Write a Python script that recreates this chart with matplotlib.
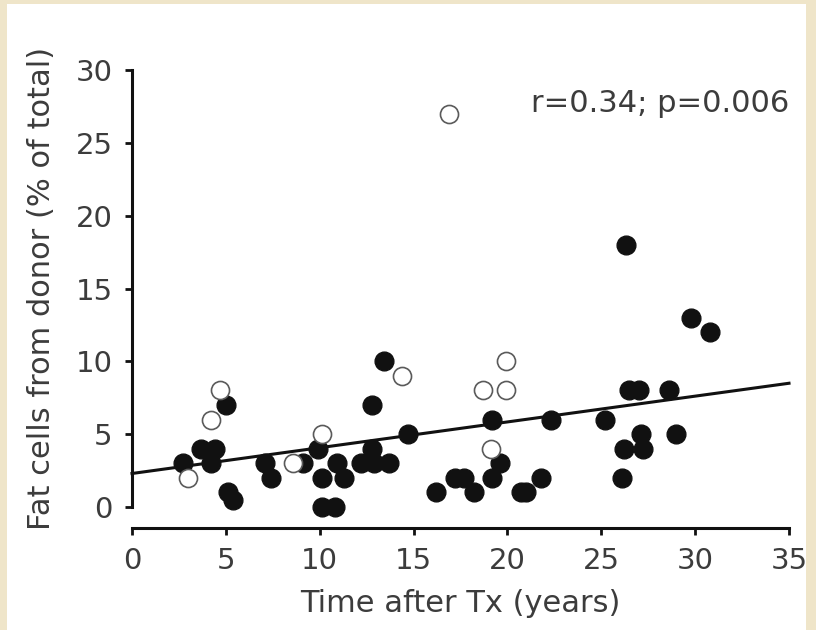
import matplotlib
matplotlib.use("Agg")
import matplotlib.pyplot as plt
from matplotlib.patches import Rectangle

# Filled circles (x: years after Tx, y: % donor fat cells)
filled_x = [2.7, 3.7, 4.4, 4.2, 5.0, 5.1, 5.4, 7.1, 7.4, 9.1, 9.9, 10.1, 10.1, 10.8,
            10.9, 11.3, 12.2, 12.8, 12.8, 12.9, 13.4, 13.7, 14.7, 16.2, 17.2, 17.7,
            18.2, 19.2, 19.2, 19.6, 20.7, 21.0, 21.8, 22.3, 25.2, 26.1, 26.2, 26.3,
            26.5, 27.0, 27.1, 27.2, 28.6, 29.0, 29.8, 30.8]
filled_y = [3, 4, 4, 3, 7, 1, 0.5, 3, 2, 3, 4, 2, 0, 0,
            3, 2, 3, 7, 4, 3, 10, 3, 5, 1, 2, 2,
            1, 2, 6, 3, 1, 1, 2, 6, 6, 2, 4, 18,
            8, 8, 5, 4, 8, 5, 13, 12]

# Open circles
open_x = [3.0, 4.2, 4.7, 8.6, 10.1, 14.4, 16.9, 18.7, 19.1, 19.9, 19.9]
open_y = [2, 6, 8, 3, 5, 9, 27, 8, 4, 8, 10]

# Regression line
fit_intercept = 2.3
fit_slope = 0.177
fit_range = [0, 35]

x_ticks = [0, 5, 10, 15, 20, 25, 30, 35]
y_ticks = [0, 5, 10, 15, 20, 25, 30]

plt.rcParams["font.family"] = ["DejaVu Sans"]

W, H = 816, 630
fig = plt.figure(figsize=(W / 100, H / 100), dpi=100)
fig.patch.set_facecolor("#EFE5C9")
bg = Rectangle((7 / W, 0), (806 - 7) / W, (H - 4) / H,
               transform=fig.transFigure, facecolor="white",
               edgecolor="none", zorder=-10)
fig.add_artist(bg)

text_color = "#3c3c3c"

ax = fig.add_axes([132 / W, (H - 507) / H, (789 - 132) / W, (507 - 70) / H])
ax.set_zorder(5)
ax.set_facecolor("none")

ax.plot(filled_x, filled_y, linestyle="none", marker="o", markersize=13.5,
        markerfacecolor="#111111", markeredgecolor="#111111", clip_on=False, zorder=3)
ax.plot(open_x, open_y, linestyle="none", marker="o", markersize=13,
        markerfacecolor="white", markeredgecolor="#5a5a5a", markeredgewidth=1.2,
        clip_on=False, zorder=3)

fx = fit_range
fy = [fit_intercept + fit_slope * v for v in fx]
ax.plot(fx, fy, color="#111111", linewidth=2.2, zorder=4, clip_on=False)

ax.set_xlim(0, 35)
ax.set_ylim(0, 30)
ax.set_xticks(x_ticks)
ax.set_yticks(y_ticks)

for s in ["top", "right"]:
    ax.spines[s].set_visible(False)
for s in ["left", "bottom"]:
    ax.spines[s].set_linewidth(2.2)
    ax.spines[s].set_color("#111111")
ax.spines["bottom"].set_position(("outward", 15))

ax.tick_params(axis="both", direction="out", length=5, width=2.0, color="#111111",
               labelsize=21, labelcolor=text_color)
ax.tick_params(axis="y", pad=9)
ax.tick_params(axis="x", pad=9)

ax.set_xlabel("Time after Tx (years)", fontsize=22, color=text_color)
ax.xaxis.set_label_coords(0.5, -0.188)
ax.xaxis.label.set_va("top")
ax.set_ylabel("Fat cells from donor (% of total)", fontsize=22, color=text_color)
ax.yaxis.set_label_coords(-0.115, 0.50)

ax.text(35, 27.7, "r=0.34; p=0.006", ha="right", va="center", fontsize=22,
        color=text_color)

fig.savefig("out.png", dpi=100, facecolor=fig.get_facecolor())
